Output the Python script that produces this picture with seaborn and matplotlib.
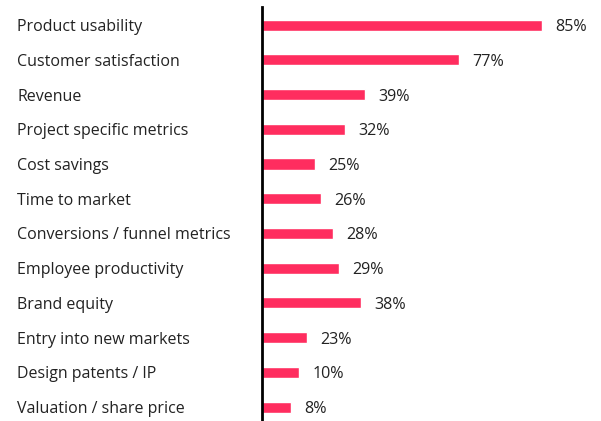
import matplotlib
matplotlib.use("Agg")
import matplotlib.pyplot as plt
import seaborn as sns
import pandas as pd

sns.set_theme(style="white")
plt.rcParams['font.family'] = ['Open Sans', 'DejaVu Sans']

categories = [
    "Product usability",
    "Customer satisfaction",
    "Revenue",
    "Project specific metrics",
    "Cost savings",
    "Time to market",
    "Conversions / funnel metrics",
    "Employee productivity",
    "Brand equity",
    "Entry into new markets",
    "Design patents / IP",
    "Valuation / share price",
]
# bar lengths as drawn in the picture (the source chart is not proportional to its labels)
bar_values = [85, 59.8, 31.5, 25.3, 16.2, 18.0, 21.8, 23.5, 30.2, 13.8, 11.4, 8.9]
value_labels = ["85%", "77%", "39%", "32%", "25%", "26%", "28%", "29%", "38%", "23%", "10%", "8%"]

df = pd.DataFrame({"metric": categories, "value": bar_values})

fig = plt.figure(figsize=(6.01, 4.21), dpi=100)
ax = fig.add_axes([261.5 / 601, 0, 1 - 261.5 / 601, 1 - 7 / 421])

sns.barplot(data=df, x="value", y="metric", orient="h", color="#ff2d5f",
            width=0.32, saturation=1, ax=ax)

texts = ax.bar_label(ax.containers[0], labels=value_labels, padding=9.5,
                     fontsize=11.6, color="#222222")
for t in texts:
    t.set_verticalalignment("center_baseline")

ax.set_xlim(0, 339.5 / 3.3)
ax.set_ylim(11.4, -0.52)
ax.set_xlabel("")
ax.set_ylabel("")
ax.set_xticks([])

for s in ["top", "right", "bottom"]:
    ax.spines[s].set_visible(False)
ax.spines["left"].set_color("black")
ax.spines["left"].set_linewidth(2)

ax.tick_params(axis="y", length=0, pad=(261.5 - 17) * 0.72, labelsize=11.5, labelcolor="#222222")
for lbl in ax.get_yticklabels():
    lbl.set_horizontalalignment("left")
    lbl.set_verticalalignment("center_baseline")

fig.savefig("out.png", dpi=100)
